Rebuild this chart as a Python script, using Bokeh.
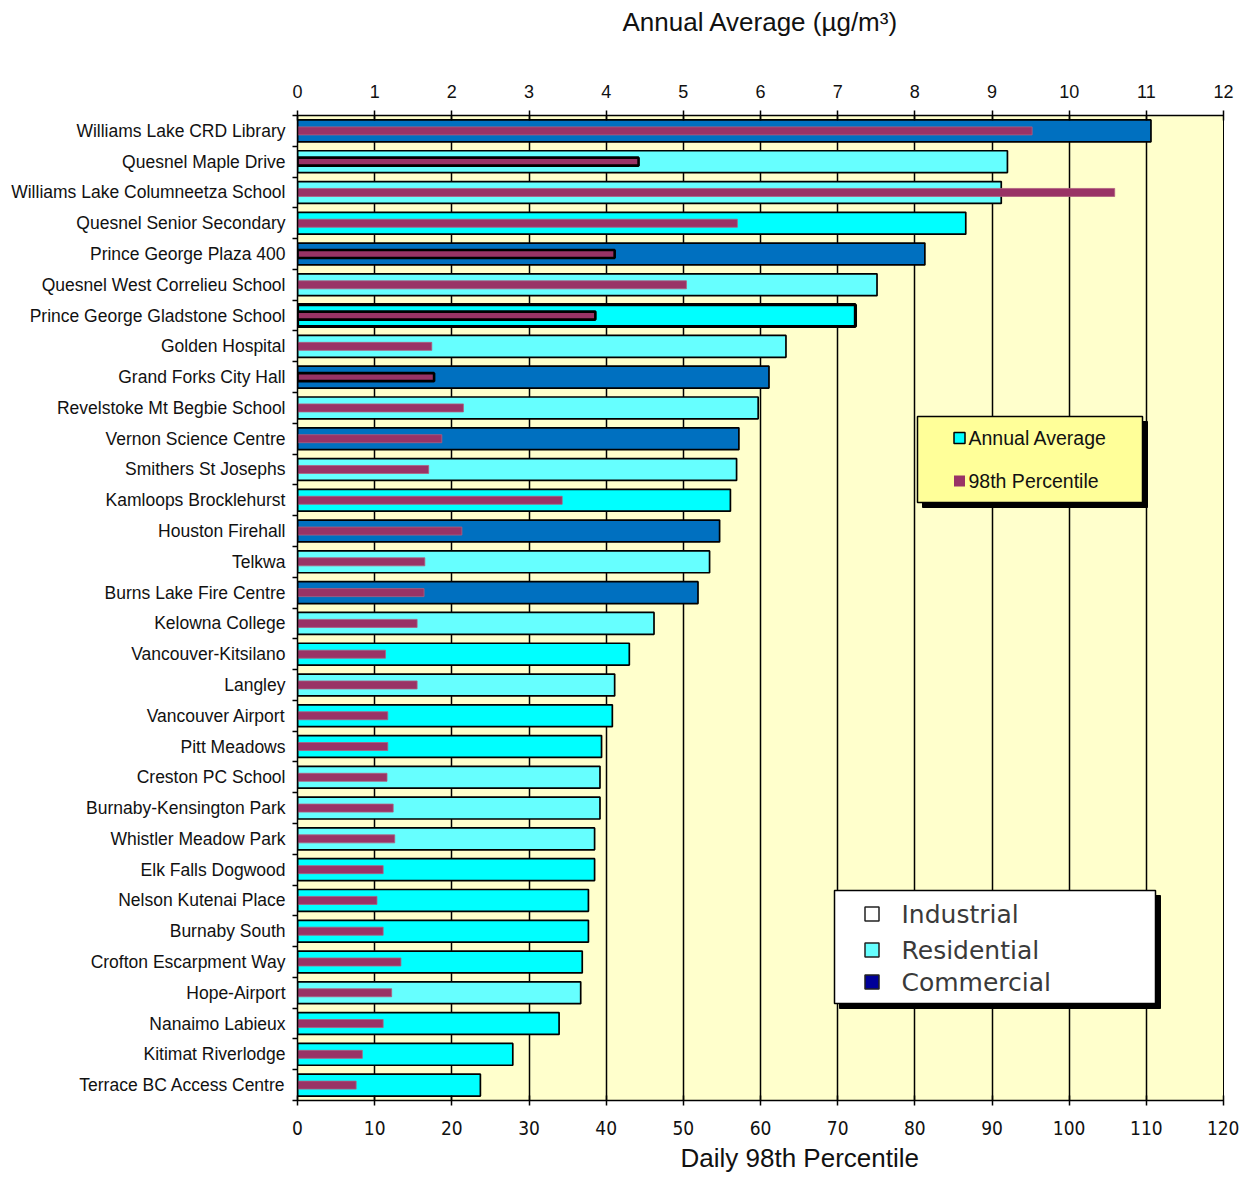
from bokeh.plotting import figure
from bokeh.models import (Range1d, LinearAxis, FixedTicker, ColumnDataSource, Title)
from bokeh.core.properties import value
from bokeh.embed import file_html
from bokeh.resources import INLINE

# ---------------- data ----------------
stations = [
    "Williams Lake CRD Library", "Quesnel Maple Drive", "Williams Lake Columneetza School",
    "Quesnel Senior Secondary", "Prince George Plaza 400", "Quesnel West Correlieu School",
    "Prince George Gladstone School", "Golden Hospital", "Grand Forks City Hall",
    "Revelstoke Mt Begbie School", "Vernon Science Centre", "Smithers St Josephs",
    "Kamloops Brocklehurst", "Houston Firehall", "Telkwa", "Burns Lake Fire Centre",
    "Kelowna College", "Vancouver-Kitsilano", "Langley", "Vancouver Airport",
    "Pitt Meadows", "Creston PC School", "Burnaby-Kensington Park", "Whistler Meadow Park",
    "Elk Falls Dogwood", "Nelson Kutenai Place", "Burnaby South", "Crofton Escarpment Way",
    "Hope-Airport", "Nanaimo Labieux", "Kitimat Riverlodge", "Terrace BC Access Centre",
]
annual_avg = [11.06, 9.20, 9.12, 8.66, 8.13, 7.51, 7.23, 6.33, 6.11, 5.97, 5.72, 5.69,
              5.61, 5.47, 5.34, 5.19, 4.62, 4.30, 4.11, 4.08, 3.94, 3.92, 3.92, 3.85,
              3.85, 3.77, 3.77, 3.69, 3.67, 3.39, 2.79, 2.37]
percentile_98 = [95.2, 44.2, 105.9, 57.0, 41.1, 50.4, 38.6, 17.4, 17.7, 21.5, 18.7, 17.0,
                 34.3, 21.3, 16.5, 16.4, 15.5, 11.4, 15.5, 11.7, 11.7, 11.6, 12.4, 12.6,
                 11.1, 10.3, 11.1, 13.4, 12.2, 11.1, 8.4, 7.6]
site_class = ["commercial", "residential", "residential", "residential_b", "commercial",
              "residential", "residential_b", "residential", "commercial", "residential",
              "commercial", "residential", "residential_b", "commercial", "residential",
              "commercial", "residential", "residential_b", "residential", "residential_b",
              "residential_b", "residential", "residential", "residential", "residential_b",
              "residential_b", "residential_b", "residential_b", "residential", "residential_b",
              "residential_b", "residential_b"]
p98_highlight = ["Quesnel Maple Drive", "Prince George Plaza 400",
                 "Prince George Gladstone School", "Grand Forks City Hall"]
avg_highlight = ["Prince George Gladstone School"]

annual_ticks = list(range(0, 13))
p98_ticks = list(range(0, 121, 10))
top_title = "Annual Average (µg/m³)"
bottom_title = "Daily 98th Percentile"
legend1_labels = ["Annual Average", "98th Percentile"]
legend2_labels = ["Industrial", "Residential", "Commercial"]

# ---------------- styles ----------------
class_fill = {"commercial": "#0070C0", "residential": "#66FFFF", "residential_b": "#00FFFF"}
P98_COLOR = "#993366"
YELLOW_BG = "#FFFFCC"
FONT = "'Liberation Sans', Arial, sans-serif"
NARROW = "'Liberation Sans Narrow', 'Arial Narrow', 'DejaVu Sans Condensed', sans-serif"
INK = "#111111"

n = len(stations)
row_pos = [n - i - 0.5 for i in range(n)]   # first station at the top
row_edges = list(range(n + 1))

src = ColumnDataSource(dict(
    station=stations,
    row=row_pos,
    avg=annual_avg,
    p98=percentile_98,
    fill=[class_fill[c] for c in site_class],
    avg_lw=[3.2 if s in avg_highlight else 1.7 for s in stations],
    p98_line=["black" if s in p98_highlight else "#B0607F" for s in stations],
    p98_lw=[2.6 if s in p98_highlight else 0.8 for s in stations],
))

p = figure(width=1239, height=1184,
           x_range=Range1d(0, 12), y_range=Range1d(0, n),
           x_axis_location="above", y_axis_location=None,
           output_backend="svg", toolbar_location=None,
           min_border_left=297, min_border_right=16,
           min_border_top=115, min_border_bottom=84,
           background_fill_color=YELLOW_BG, border_fill_color="white",
           outline_line_color="black", outline_line_width=1)
p.extra_x_ranges = {"p98": Range1d(0, 120)}

# top axis (annual average)
top_ticker = FixedTicker(ticks=annual_ticks)
ax = p.xaxis[0]
ax.ticker = top_ticker
ax.axis_label = top_title
ax.axis_label_text_font = FONT
ax.axis_label_text_font_size = "26px"
ax.axis_label_text_font_style = "normal"
ax.axis_label_text_color = INK
ax.axis_label_standoff = 45
ax.major_label_text_font = FONT
ax.major_label_text_font_size = "18px"
ax.major_label_text_color = INK
ax.major_label_standoff = 13
ax.major_tick_in = 5
ax.major_tick_out = 5
ax.major_tick_line_width = 1.5
ax.minor_tick_line_color = None
ax.axis_line_width = 1.5

p.xgrid.ticker = top_ticker
p.xgrid.grid_line_color = "black"
p.xgrid.grid_line_width = 1.5
p.ygrid.grid_line_color = None

# left: station labels, with ticks at the boundaries between rows
lab_ax = LinearAxis(ticker=FixedTicker(ticks=row_pos, minor_ticks=row_edges),
                    major_label_overrides={y: s for y, s in zip(row_pos, stations)},
                    major_tick_line_color=None, major_tick_out=5, major_tick_in=0,
                    minor_tick_line_color="black", minor_tick_out=5, minor_tick_in=0,
                    minor_tick_line_width=1.5,
                    axis_line_color="black", axis_line_width=1.5,
                    major_label_standoff=7, major_label_text_font=FONT,
                    major_label_text_font_size="17.5px",
                    major_label_text_color=INK)
p.add_layout(lab_ax, "left")

# bottom axis (98th percentile)
bot = LinearAxis(x_range_name="p98", ticker=FixedTicker(ticks=p98_ticks),
                 major_label_text_font=NARROW, major_label_text_font_size="19px",
                 major_label_text_color=INK, major_label_standoff=15,
                 major_tick_in=5, major_tick_out=5, major_tick_line_width=1.5,
                 minor_tick_line_color=None, axis_line_width=1.5)
p.add_layout(bot, "below")
p.add_layout(Title(text=bottom_title, align="left", offset=383, standoff=10,
                   vertical_align="top",
                   text_font=FONT, text_font_size="26px", text_font_style="normal",
                   text_color=INK), "below")

# bars
p.hbar(y="row", left=0, right="avg", height=0.71, fill_color="fill",
       line_color="black", line_width="avg_lw", source=src)
p.hbar(y="row", left=0, right="p98", height=0.26, fill_color=P98_COLOR,
       line_color="p98_line", line_width="p98_lw", x_range_name="p98", source=src)

# ---------------- legend boxes (decorations placed relative to the frame) ----------------
FX0, FXS = 297.0, 926.0 / 12.0
FY0, FYS = 1100.0, 985.0 / n
def fx(px):
    return (px - FX0) / FXS
def fy(py):
    return (FY0 - py) / FYS

SH = 5  # shadow offset in px
# legend 1
p.quad(left=[fx(917 + SH)], right=[fx(1142 + SH)], top=[fy(416 + SH)], bottom=[fy(502 + SH)],
       fill_color="black", line_color="black")
p.quad(left=[fx(917)], right=[fx(1142)], top=[fy(416)], bottom=[fy(502)],
       fill_color="#FFFF99", line_color="black", line_width=1.5)
p.rect(x=[fx(959)], y=[fy(437.5)], width=11, height=11, width_units="screen",
       height_units="screen", fill_color="#00FFFF", line_color="black", line_width=1.5)
p.rect(x=[fx(959)], y=[fy(480.5)], width=11, height=11, width_units="screen",
       height_units="screen", fill_color=P98_COLOR, line_color=None)
p.text(x=[fx(968)] * 2, y=[fy(437.5), fy(480.5)], text=legend1_labels,
       text_font=value(FONT), text_font_size=value("19.5px"), text_color=INK,
       text_baseline="middle", text_align="left")

# legend 2
p.quad(left=[fx(834 + SH)], right=[fx(1155 + SH)], top=[fy(890 + SH)], bottom=[fy(1003 + SH)],
       fill_color="black", line_color="black")
p.quad(left=[fx(834)], right=[fx(1155)], top=[fy(890)], bottom=[fy(1003)],
       fill_color="white", line_color="black", line_width=1.5)
p.rect(x=[fx(871.5)] * 3, y=[fy(913.5), fy(949.5), fy(981.5)], width=14, height=14,
       width_units="screen", height_units="screen",
       fill_color=["white", "#66FFFF", "#000099"], line_color="#222222", line_width=1.5)
p.text(x=[fx(901)] * 3, y=[fy(913.5), fy(949.5), fy(981.5)], text=legend2_labels,
       text_font=value("'DejaVu Sans', sans-serif"), text_font_size=value("25px"),
       text_color="#3a3a3a", text_baseline="middle", text_align="left")

open("out.html", "w").write(file_html(p, INLINE))
